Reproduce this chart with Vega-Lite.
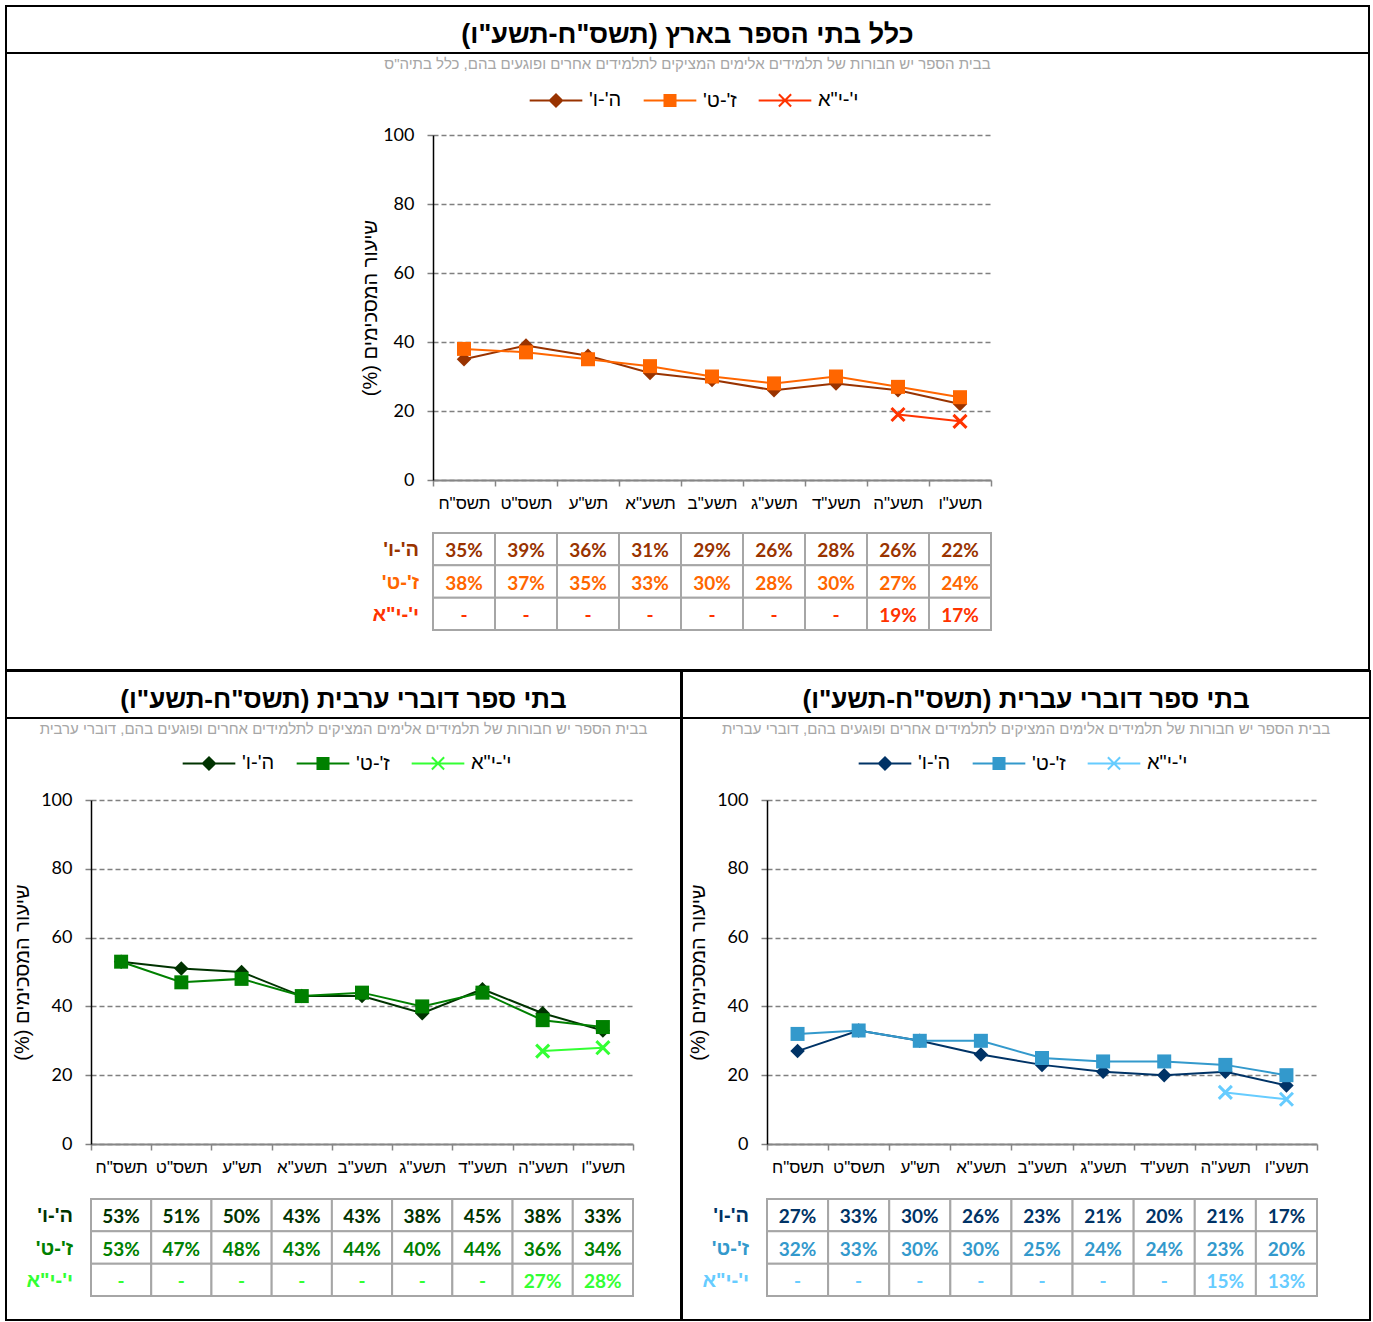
{
"$schema": "https://vega.github.io/schema/vega-lite/v6.json",
"padding": {"left": 5, "top": 5, "right": 0, "bottom": 0},
"background": "white",
"config": {
 "view": {"stroke": null},
 "font": "Liberation Sans",
 "axisX": {"domainColor": "#868686", "domainWidth": 2, "tickBand": "extent", "tickColor": "#868686", "tickSize": 6, "tickWidth": 1.5, "labelAngle": 0, "labelFont": "Liberation Sans", "labelFontSize": 17, "labelColor": "black", "labelPadding": 9, "grid": false},
 "axisY": {"grid": true, "gridColor": "#808080", "gridDash": [5, 3], "gridWidth": 1.3, "domainColor": "black", "domainWidth": 1.5, "tickColor": "#808080", "tickSize": 6, "tickWidth": 1.5, "labelFont": "Lato", "labelFontSize": 18, "labelColor": "black", "labelPadding": 13, "titleFont": "Liberation Sans", "titleFontSize": 20, "titleFontWeight": "normal", "titleColor": "black"},
 "legend": {"orient": "none", "direction": "horizontal", "labelFont": "Liberation Sans", "labelFontSize": 20, "labelColor": "black", "symbolSize": 150, "symbolStrokeWidth": 2, "labelOffset": 23, "columnPadding": 17, "padding": 0, "labelLimit": 300},
 "title": {"fontSize": 15, "fontWeight": "normal", "color": "#A6A6A6", "font": "Liberation Sans", "anchor": "middle", "frame": "group", "offset": -19}
},
"datasets": {
 "top": [
  {"year":"תשס\"ח","grade":"ה'-ו'","value":35,"label":"35%"},
  {"year":"תשס\"ט","grade":"ה'-ו'","value":39,"label":"39%"},
  {"year":"תש\"ע","grade":"ה'-ו'","value":36,"label":"36%"},
  {"year":"תשע\"א","grade":"ה'-ו'","value":31,"label":"31%"},
  {"year":"תשע\"ב","grade":"ה'-ו'","value":29,"label":"29%"},
  {"year":"תשע\"ג","grade":"ה'-ו'","value":26,"label":"26%"},
  {"year":"תשע\"ד","grade":"ה'-ו'","value":28,"label":"28%"},
  {"year":"תשע\"ה","grade":"ה'-ו'","value":26,"label":"26%"},
  {"year":"תשע\"ו","grade":"ה'-ו'","value":22,"label":"22%"},
  {"year":"תשס\"ח","grade":"ז'-ט'","value":38,"label":"38%"},
  {"year":"תשס\"ט","grade":"ז'-ט'","value":37,"label":"37%"},
  {"year":"תש\"ע","grade":"ז'-ט'","value":35,"label":"35%"},
  {"year":"תשע\"א","grade":"ז'-ט'","value":33,"label":"33%"},
  {"year":"תשע\"ב","grade":"ז'-ט'","value":30,"label":"30%"},
  {"year":"תשע\"ג","grade":"ז'-ט'","value":28,"label":"28%"},
  {"year":"תשע\"ד","grade":"ז'-ט'","value":30,"label":"30%"},
  {"year":"תשע\"ה","grade":"ז'-ט'","value":27,"label":"27%"},
  {"year":"תשע\"ו","grade":"ז'-ט'","value":24,"label":"24%"},
  {"year":"תשס\"ח","grade":"י'-י\"א","value":null,"label":"-"},
  {"year":"תשס\"ט","grade":"י'-י\"א","value":null,"label":"-"},
  {"year":"תש\"ע","grade":"י'-י\"א","value":null,"label":"-"},
  {"year":"תשע\"א","grade":"י'-י\"א","value":null,"label":"-"},
  {"year":"תשע\"ב","grade":"י'-י\"א","value":null,"label":"-"},
  {"year":"תשע\"ג","grade":"י'-י\"א","value":null,"label":"-"},
  {"year":"תשע\"ד","grade":"י'-י\"א","value":null,"label":"-"},
  {"year":"תשע\"ה","grade":"י'-י\"א","value":19,"label":"19%"},
  {"year":"תשע\"ו","grade":"י'-י\"א","value":17,"label":"17%"}
 ],
 "arab": [
  {"year":"תשס\"ח","grade":"ה'-ו'","value":53,"label":"53%"},
  {"year":"תשס\"ט","grade":"ה'-ו'","value":51,"label":"51%"},
  {"year":"תש\"ע","grade":"ה'-ו'","value":50,"label":"50%"},
  {"year":"תשע\"א","grade":"ה'-ו'","value":43,"label":"43%"},
  {"year":"תשע\"ב","grade":"ה'-ו'","value":43,"label":"43%"},
  {"year":"תשע\"ג","grade":"ה'-ו'","value":38,"label":"38%"},
  {"year":"תשע\"ד","grade":"ה'-ו'","value":45,"label":"45%"},
  {"year":"תשע\"ה","grade":"ה'-ו'","value":38,"label":"38%"},
  {"year":"תשע\"ו","grade":"ה'-ו'","value":33,"label":"33%"},
  {"year":"תשס\"ח","grade":"ז'-ט'","value":53,"label":"53%"},
  {"year":"תשס\"ט","grade":"ז'-ט'","value":47,"label":"47%"},
  {"year":"תש\"ע","grade":"ז'-ט'","value":48,"label":"48%"},
  {"year":"תשע\"א","grade":"ז'-ט'","value":43,"label":"43%"},
  {"year":"תשע\"ב","grade":"ז'-ט'","value":44,"label":"44%"},
  {"year":"תשע\"ג","grade":"ז'-ט'","value":40,"label":"40%"},
  {"year":"תשע\"ד","grade":"ז'-ט'","value":44,"label":"44%"},
  {"year":"תשע\"ה","grade":"ז'-ט'","value":36,"label":"36%"},
  {"year":"תשע\"ו","grade":"ז'-ט'","value":34,"label":"34%"},
  {"year":"תשס\"ח","grade":"י'-י\"א","value":null,"label":"-"},
  {"year":"תשס\"ט","grade":"י'-י\"א","value":null,"label":"-"},
  {"year":"תש\"ע","grade":"י'-י\"א","value":null,"label":"-"},
  {"year":"תשע\"א","grade":"י'-י\"א","value":null,"label":"-"},
  {"year":"תשע\"ב","grade":"י'-י\"א","value":null,"label":"-"},
  {"year":"תשע\"ג","grade":"י'-י\"א","value":null,"label":"-"},
  {"year":"תשע\"ד","grade":"י'-י\"א","value":null,"label":"-"},
  {"year":"תשע\"ה","grade":"י'-י\"א","value":27,"label":"27%"},
  {"year":"תשע\"ו","grade":"י'-י\"א","value":28,"label":"28%"}
 ],
 "heb": [
  {"year":"תשס\"ח","grade":"ה'-ו'","value":27,"label":"27%"},
  {"year":"תשס\"ט","grade":"ה'-ו'","value":33,"label":"33%"},
  {"year":"תש\"ע","grade":"ה'-ו'","value":30,"label":"30%"},
  {"year":"תשע\"א","grade":"ה'-ו'","value":26,"label":"26%"},
  {"year":"תשע\"ב","grade":"ה'-ו'","value":23,"label":"23%"},
  {"year":"תשע\"ג","grade":"ה'-ו'","value":21,"label":"21%"},
  {"year":"תשע\"ד","grade":"ה'-ו'","value":20,"label":"20%"},
  {"year":"תשע\"ה","grade":"ה'-ו'","value":21,"label":"21%"},
  {"year":"תשע\"ו","grade":"ה'-ו'","value":17,"label":"17%"},
  {"year":"תשס\"ח","grade":"ז'-ט'","value":32,"label":"32%"},
  {"year":"תשס\"ט","grade":"ז'-ט'","value":33,"label":"33%"},
  {"year":"תש\"ע","grade":"ז'-ט'","value":30,"label":"30%"},
  {"year":"תשע\"א","grade":"ז'-ט'","value":30,"label":"30%"},
  {"year":"תשע\"ב","grade":"ז'-ט'","value":25,"label":"25%"},
  {"year":"תשע\"ג","grade":"ז'-ט'","value":24,"label":"24%"},
  {"year":"תשע\"ד","grade":"ז'-ט'","value":24,"label":"24%"},
  {"year":"תשע\"ה","grade":"ז'-ט'","value":23,"label":"23%"},
  {"year":"תשע\"ו","grade":"ז'-ט'","value":20,"label":"20%"},
  {"year":"תשס\"ח","grade":"י'-י\"א","value":null,"label":"-"},
  {"year":"תשס\"ט","grade":"י'-י\"א","value":null,"label":"-"},
  {"year":"תש\"ע","grade":"י'-י\"א","value":null,"label":"-"},
  {"year":"תשע\"א","grade":"י'-י\"א","value":null,"label":"-"},
  {"year":"תשע\"ב","grade":"י'-י\"א","value":null,"label":"-"},
  {"year":"תשע\"ג","grade":"י'-י\"א","value":null,"label":"-"},
  {"year":"תשע\"ד","grade":"י'-י\"א","value":null,"label":"-"},
  {"year":"תשע\"ה","grade":"י'-י\"א","value":15,"label":"15%"},
  {"year":"תשע\"ו","grade":"י'-י\"א","value":13,"label":"13%"}
 ]
},
"spacing": -2,
"resolve": {"scale": {"color": "independent", "shape": "independent", "stroke": "independent"}, "legend": {"color": "independent", "shape": "independent", "stroke": "independent"}},
"vconcat": [
 {"spacing": 0, "bounds": "flush",
  "resolve": {"scale": {"color": "independent", "shape": "independent", "stroke": "independent"}, "legend": {"color": "independent", "shape": "independent", "stroke": "independent"}},
  "vconcat": [
   {"width": 1363, "height": 47, "view": {"stroke": "black", "strokeWidth": 2},
    "data": {"values": [{}]},
    "mark": {"type": "text", "text": "\u200fכלל בתי הספר בארץ (תשס\"ח-תשע\"ו)\u200f", "font": "Liberation Sans", "fontSize": 27, "fontWeight": "bold", "dy": 5},
    "encoding": {}},
   {"width": 1363, "height": 617, "view": {"stroke": "black", "strokeWidth": 2},
    "data": {"name": "top"},
    "title": {"text": "בבית הספר יש חבורות של תלמידים אלימים המציקים לתלמידים אחרים ופוגעים בהם, כלל בתיה\"ס"},
    "resolve": {"scale": {"y": "independent"}},
    "layer": [
     {"transform": [{"filter": "isValid(datum.value)"}],
      "layer": [
       {"mark": {"type": "line", "strokeWidth": 2},
        "encoding": {
         "x": {"field": "year", "type": "nominal", "sort": ["תשס\"ח","תשס\"ט","תש\"ע","תשע\"א","תשע\"ב","תשע\"ג","תשע\"ד","תשע\"ה","תשע\"ו"], "scale": {"type": "band", "domain": ["תשס\"ח","תשס\"ט","תש\"ע","תשע\"א","תשע\"ב","תשע\"ג","תשע\"ד","תשע\"ה","תשע\"ו"], "range": [427, 985], "paddingInner": 0, "paddingOuter": 0}, "axis": {"orient": "bottom", "offset": -190, "title": null}},
         "y": {"field": "value", "type": "quantitative", "scale": {"domain": [0, 100], "range": [427, 82], "nice": false, "zero": false}, "axis": {"orient": "left", "offset": -427, "values": [0, 20, 40, 60, 80, 100], "title": "שיעור המסכימים (%)\u200f", "titlePadding": 2}},
         "color": {"field": "grade", "type": "nominal", "scale": {"domain": ["ה'-ו'","ז'-ט'","י'-י\"א"], "range": ["#993300","#FF6600","#FF3300"]},
          "legend": {"title": null, "legendX": 540, "legendY": 37, "labelExpr": "'\u200f' + datum.label + '\u200f'"}}
        }},
       {"transform": [{"filter": {"field": "grade", "equal": "ה'-ו'"}}],
        "mark": {"type": "point", "shape": "diamond", "filled": true, "opacity": 1, "size": 210},
        "encoding": {
         "x": {"field": "year", "type": "nominal", "sort": ["תשס\"ח","תשס\"ט","תש\"ע","תשע\"א","תשע\"ב","תשע\"ג","תשע\"ד","תשע\"ה","תשע\"ו"], "scale": {"type": "band", "domain": ["תשס\"ח","תשס\"ט","תש\"ע","תשע\"א","תשע\"ב","תשע\"ג","תשע\"ד","תשע\"ה","תשע\"ו"], "range": [427, 985], "paddingInner": 0, "paddingOuter": 0}},
         "y": {"field": "value", "type": "quantitative", "scale": {"domain": [0, 100], "range": [427, 82], "nice": false, "zero": false}},
         "color": {"field": "grade", "type": "nominal", "scale": {"domain": ["ה'-ו'","ז'-ט'","י'-י\"א"], "range": ["#993300","#FF6600","#FF3300"]}}
        }},
       {"transform": [{"filter": {"field": "grade", "equal": "ז'-ט'"}}],
        "mark": {"type": "point", "shape": "square", "filled": true, "opacity": 1, "size": 196},
        "encoding": {
         "x": {"field": "year", "type": "nominal", "sort": ["תשס\"ח","תשס\"ט","תש\"ע","תשע\"א","תשע\"ב","תשע\"ג","תשע\"ד","תשע\"ה","תשע\"ו"], "scale": {"type": "band", "domain": ["תשס\"ח","תשס\"ט","תש\"ע","תשע\"א","תשע\"ב","תשע\"ג","תשע\"ד","תשע\"ה","תשע\"ו"], "range": [427, 985], "paddingInner": 0, "paddingOuter": 0}},
         "y": {"field": "value", "type": "quantitative", "scale": {"domain": [0, 100], "range": [427, 82], "nice": false, "zero": false}},
         "color": {"field": "grade", "type": "nominal", "scale": {"domain": ["ה'-ו'","ז'-ט'","י'-י\"א"], "range": ["#993300","#FF6600","#FF3300"]}}
        }},
       {"transform": [{"filter": {"field": "grade", "equal": "י'-י\"א"}}],
        "mark": {"type": "point", "shape": "M-1.1,-1.1L1.1,1.1M-1.1,1.1L1.1,-1.1", "filled": false, "opacity": 1, "size": 140, "strokeWidth": 3},
        "encoding": {
         "x": {"field": "year", "type": "nominal", "sort": ["תשס\"ח","תשס\"ט","תש\"ע","תשע\"א","תשע\"ב","תשע\"ג","תשע\"ד","תשע\"ה","תשע\"ו"], "scale": {"type": "band", "domain": ["תשס\"ח","תשס\"ט","תש\"ע","תשע\"א","תשע\"ב","תשע\"ג","תשע\"ד","תשע\"ה","תשע\"ו"], "range": [427, 985], "paddingInner": 0, "paddingOuter": 0}},
         "y": {"field": "value", "type": "quantitative", "scale": {"domain": [0, 100], "range": [427, 82], "nice": false, "zero": false}},
         "color": {"field": "grade", "type": "nominal", "scale": {"domain": ["ה'-ו'","ז'-ט'","י'-י\"א"], "range": ["#993300","#FF6600","#FF3300"]}}
        }},
       {"mark": {"type": "point", "filled": true, "opacity": 1, "size": 0, "strokeWidth": 2},
        "encoding": {
         "x": {"field": "year", "type": "nominal", "sort": ["תשס\"ח","תשס\"ט","תש\"ע","תשע\"א","תשע\"ב","תשע\"ג","תשע\"ד","תשע\"ה","תשע\"ו"], "scale": {"type": "band", "domain": ["תשס\"ח","תשס\"ט","תש\"ע","תשע\"א","תשע\"ב","תשע\"ג","תשע\"ד","תשע\"ה","תשע\"ו"], "range": [427, 985], "paddingInner": 0, "paddingOuter": 0}},
         "y": {"field": "value", "type": "quantitative", "scale": {"domain": [0, 100], "range": [427, 82], "nice": false, "zero": false}},
         "color": {"field": "grade", "type": "nominal", "scale": {"domain": ["ה'-ו'","ז'-ט'","י'-י\"א"], "range": ["#993300","#FF6600","#FF3300"]}, "legend": {"title": null, "legendX": 540, "legendY": 37, "labelExpr": "'\u200f' + datum.label + '\u200f'"}},
         "shape": {"field": "grade", "type": "nominal", "scale": {"domain": ["ה'-ו'","ז'-ט'","י'-י\"א"], "range": ["M-4.3,0H4.3M-1,0L0,-1L1,0L0,1Z","M-4.3,0H4.3M-0.9,-0.9H0.9V0.9H-0.9Z","M-4.3,0H4.3M-1,-1L1,1M-1,1L1,-1"]}, "legend": {"title": null, "legendX": 540, "legendY": 37, "labelExpr": "'\u200f' + datum.label + '\u200f'"}},
         "stroke": {"field": "grade", "type": "nominal", "scale": {"domain": ["ה'-ו'","ז'-ט'","י'-י\"א"], "range": ["#993300","#FF6600","#FF3300"]}, "legend": {"title": null, "legendX": 540, "legendY": 37, "labelExpr": "'\u200f' + datum.label + '\u200f'"}}
        }}
      ]},
     {"layer": [
       {"mark": {"type": "rect", "fill": "white", "stroke": "#A6A6A6", "strokeWidth": 2},
        "encoding": {
         "x": {"field": "year", "type": "nominal", "sort": ["תשס\"ח","תשס\"ט","תש\"ע","תשע\"א","תשע\"ב","תשע\"ג","תשע\"ד","תשע\"ה","תשע\"ו"], "scale": {"type": "band", "domain": ["תשס\"ח","תשס\"ט","תש\"ע","תשע\"א","תשע\"ב","תשע\"ג","תשע\"ד","תשע\"ה","תשע\"ו"], "range": [427, 985], "paddingInner": 0, "paddingOuter": 0}},
         "y": {"field": "grade", "type": "nominal", "scale": {"type": "band", "domain": ["ה'-ו'","ז'-ט'","י'-י\"א"], "range": [480, 577], "paddingInner": 0, "paddingOuter": 0}, "axis": null}
        }},
       {"mark": {"type": "text", "font": "Lato", "fontSize": 19, "fontWeight": "bold", "dy": 2},
        "encoding": {
         "x": {"field": "year", "type": "nominal", "sort": ["תשס\"ח","תשס\"ט","תש\"ע","תשע\"א","תשע\"ב","תשע\"ג","תשע\"ד","תשע\"ה","תשע\"ו"], "scale": {"type": "band", "domain": ["תשס\"ח","תשס\"ט","תש\"ע","תשע\"א","תשע\"ב","תשע\"ג","תשע\"ד","תשע\"ה","תשע\"ו"], "range": [427, 985], "paddingInner": 0, "paddingOuter": 0}},
         "y": {"field": "grade", "type": "nominal", "scale": {"type": "band", "domain": ["ה'-ו'","ז'-ט'","י'-י\"א"], "range": [480, 577], "paddingInner": 0, "paddingOuter": 0}, "axis": null},
         "text": {"field": "label"},
         "color": {"field": "grade", "type": "nominal", "scale": {"domain": ["ה'-ו'","ז'-ט'","י'-י\"א"], "range": ["#993300","#FF6600","#FF3300"]}}
        }},
       {"transform": [{"filter": "datum.year === 'תשס\"ח'"}],
        "mark": {"type": "text", "align": "right", "dx": -14, "dy": 1, "fontSize": 20, "fontWeight": "bold", "font": "Liberation Sans", "text": {"expr": "'\u200f' + datum.grade + '\u200f'"}},
        "encoding": {
         "x": {"datum": "תשס\"ח", "type": "nominal", "bandPosition": 0, "scale": {"type": "band", "domain": ["תשס\"ח","תשס\"ט","תש\"ע","תשע\"א","תשע\"ב","תשע\"ג","תשע\"ד","תשע\"ה","תשע\"ו"], "range": [427, 985], "paddingInner": 0, "paddingOuter": 0}},
         "y": {"field": "grade", "type": "nominal", "scale": {"type": "band", "domain": ["ה'-ו'","ז'-ט'","י'-י\"א"], "range": [480, 577], "paddingInner": 0, "paddingOuter": 0}, "axis": null},
         "color": {"field": "grade", "type": "nominal", "scale": {"domain": ["ה'-ו'","ז'-ט'","י'-י\"א"], "range": ["#993300","#FF6600","#FF3300"]}}
        }}
      ]}
    ]}
  ]},
 {"spacing": -2,
  "resolve": {"scale": {"color": "independent", "shape": "independent", "stroke": "independent"}, "legend": {"color": "independent", "shape": "independent", "stroke": "independent"}},
  "hconcat": [
   {"spacing": 0, "bounds": "flush",
    "resolve": {"scale": {"color": "independent", "shape": "independent", "stroke": "independent"}, "legend": {"color": "independent", "shape": "independent", "stroke": "independent"}},
    "vconcat": [
     {"width": 675, "height": 47, "view": {"stroke": "black", "strokeWidth": 2},
      "data": {"values": [{}]},
      "mark": {"type": "text", "text": "\u200fבתי ספר דוברי ערבית (תשס\"ח-תשע\"ו)\u200f", "font": "Liberation Sans", "fontSize": 26, "fontWeight": "bold", "dy": 5},
      "encoding": {}},
     {"width": 675, "height": 602, "view": {"stroke": "black", "strokeWidth": 2},
      "data": {"name": "arab"},
      "title": {"text": "בבית הספר יש חבורות של תלמידים אלימים המציקים לתלמידים אחרים ופוגעים בהם, דוברי ערבית"},
      "resolve": {"scale": {"y": "independent"}},
      "layer": [
       {"transform": [{"filter": "isValid(datum.value)"}],
        "layer": [
         {"mark": {"type": "line", "strokeWidth": 2},
          "encoding": {
           "x": {"field": "year", "type": "nominal", "sort": ["תשס\"ח","תשס\"ט","תש\"ע","תשע\"א","תשע\"ב","תשע\"ג","תשע\"ד","תשע\"ה","תשע\"ו"], "scale": {"type": "band", "domain": ["תשס\"ח","תשס\"ט","תש\"ע","תשע\"א","תשע\"ב","תשע\"ג","תשע\"ד","תשע\"ה","תשע\"ו"], "range": [85, 627], "paddingInner": 0, "paddingOuter": 0}, "axis": {"orient": "bottom", "offset": -176, "title": null}},
           "y": {"field": "value", "type": "quantitative", "scale": {"domain": [0, 100], "range": [426, 82], "nice": false, "zero": false}, "axis": {"orient": "left", "offset": -85, "values": [0, 20, 40, 60, 80, 100], "title": "שיעור המסכימים (%)\u200f", "titlePadding": 8}},
           "color": {"field": "grade", "type": "nominal", "scale": {"domain": ["ה'-ו'","ז'-ט'","י'-י\"א"], "range": ["#003300","#008000","#33FF33"]},
            "legend": {"title": null, "legendX": 193, "legendY": 35, "labelExpr": "'\u200f' + datum.label + '\u200f'"}}
          }},
         {"transform": [{"filter": {"field": "grade", "equal": "ה'-ו'"}}],
          "mark": {"type": "point", "shape": "diamond", "filled": true, "opacity": 1, "size": 210},
          "encoding": {
           "x": {"field": "year", "type": "nominal", "sort": ["תשס\"ח","תשס\"ט","תש\"ע","תשע\"א","תשע\"ב","תשע\"ג","תשע\"ד","תשע\"ה","תשע\"ו"], "scale": {"type": "band", "domain": ["תשס\"ח","תשס\"ט","תש\"ע","תשע\"א","תשע\"ב","תשע\"ג","תשע\"ד","תשע\"ה","תשע\"ו"], "range": [85, 627], "paddingInner": 0, "paddingOuter": 0}},
           "y": {"field": "value", "type": "quantitative", "scale": {"domain": [0, 100], "range": [426, 82], "nice": false, "zero": false}},
           "color": {"field": "grade", "type": "nominal", "scale": {"domain": ["ה'-ו'","ז'-ט'","י'-י\"א"], "range": ["#003300","#008000","#33FF33"]}}
          }},
         {"transform": [{"filter": {"field": "grade", "equal": "ז'-ט'"}}],
          "mark": {"type": "point", "shape": "square", "filled": true, "opacity": 1, "size": 196},
          "encoding": {
           "x": {"field": "year", "type": "nominal", "sort": ["תשס\"ח","תשס\"ט","תש\"ע","תשע\"א","תשע\"ב","תשע\"ג","תשע\"ד","תשע\"ה","תשע\"ו"], "scale": {"type": "band", "domain": ["תשס\"ח","תשס\"ט","תש\"ע","תשע\"א","תשע\"ב","תשע\"ג","תשע\"ד","תשע\"ה","תשע\"ו"], "range": [85, 627], "paddingInner": 0, "paddingOuter": 0}},
           "y": {"field": "value", "type": "quantitative", "scale": {"domain": [0, 100], "range": [426, 82], "nice": false, "zero": false}},
           "color": {"field": "grade", "type": "nominal", "scale": {"domain": ["ה'-ו'","ז'-ט'","י'-י\"א"], "range": ["#003300","#008000","#33FF33"]}}
          }},
         {"transform": [{"filter": {"field": "grade", "equal": "י'-י\"א"}}],
          "mark": {"type": "point", "shape": "M-1.1,-1.1L1.1,1.1M-1.1,1.1L1.1,-1.1", "filled": false, "opacity": 1, "size": 140, "strokeWidth": 3},
          "encoding": {
           "x": {"field": "year", "type": "nominal", "sort": ["תשס\"ח","תשס\"ט","תש\"ע","תשע\"א","תשע\"ב","תשע\"ג","תשע\"ד","תשע\"ה","תשע\"ו"], "scale": {"type": "band", "domain": ["תשס\"ח","תשס\"ט","תש\"ע","תשע\"א","תשע\"ב","תשע\"ג","תשע\"ד","תשע\"ה","תשע\"ו"], "range": [85, 627], "paddingInner": 0, "paddingOuter": 0}},
           "y": {"field": "value", "type": "quantitative", "scale": {"domain": [0, 100], "range": [426, 82], "nice": false, "zero": false}},
           "color": {"field": "grade", "type": "nominal", "scale": {"domain": ["ה'-ו'","ז'-ט'","י'-י\"א"], "range": ["#003300","#008000","#33FF33"]}}
          }},
         {"mark": {"type": "point", "filled": true, "opacity": 1, "size": 0, "strokeWidth": 2},
          "encoding": {
           "x": {"field": "year", "type": "nominal", "sort": ["תשס\"ח","תשס\"ט","תש\"ע","תשע\"א","תשע\"ב","תשע\"ג","תשע\"ד","תשע\"ה","תשע\"ו"], "scale": {"type": "band", "domain": ["תשס\"ח","תשס\"ט","תש\"ע","תשע\"א","תשע\"ב","תשע\"ג","תשע\"ד","תשע\"ה","תשע\"ו"], "range": [85, 627], "paddingInner": 0, "paddingOuter": 0}},
           "y": {"field": "value", "type": "quantitative", "scale": {"domain": [0, 100], "range": [426, 82], "nice": false, "zero": false}},
           "color": {"field": "grade", "type": "nominal", "scale": {"domain": ["ה'-ו'","ז'-ט'","י'-י\"א"], "range": ["#003300","#008000","#33FF33"]}, "legend": {"title": null, "legendX": 193, "legendY": 35, "labelExpr": "'\u200f' + datum.label + '\u200f'"}},
           "shape": {"field": "grade", "type": "nominal", "scale": {"domain": ["ה'-ו'","ז'-ט'","י'-י\"א"], "range": ["M-4.3,0H4.3M-1,0L0,-1L1,0L0,1Z","M-4.3,0H4.3M-0.9,-0.9H0.9V0.9H-0.9Z","M-4.3,0H4.3M-1,-1L1,1M-1,1L1,-1"]}, "legend": {"title": null, "legendX": 193, "legendY": 35, "labelExpr": "'\u200f' + datum.label + '\u200f'"}},
           "stroke": {"field": "grade", "type": "nominal", "scale": {"domain": ["ה'-ו'","ז'-ט'","י'-י\"א"], "range": ["#003300","#008000","#33FF33"]}, "legend": {"title": null, "legendX": 193, "legendY": 35, "labelExpr": "'\u200f' + datum.label + '\u200f'"}}
          }}
        ]},
       {"layer": [
         {"mark": {"type": "rect", "fill": "white", "stroke": "#A6A6A6", "strokeWidth": 2},
          "encoding": {
           "x": {"field": "year", "type": "nominal", "sort": ["תשס\"ח","תשס\"ט","תש\"ע","תשע\"א","תשע\"ב","תשע\"ג","תשע\"ד","תשע\"ה","תשע\"ו"], "scale": {"type": "band", "domain": ["תשס\"ח","תשס\"ט","תש\"ע","תשע\"א","תשע\"ב","תשע\"ג","תשע\"ד","תשע\"ה","תשע\"ו"], "range": [85, 627], "paddingInner": 0, "paddingOuter": 0}},
           "y": {"field": "grade", "type": "nominal", "scale": {"type": "band", "domain": ["ה'-ו'","ז'-ט'","י'-י\"א"], "range": [481, 578], "paddingInner": 0, "paddingOuter": 0}, "axis": null}
          }},
         {"mark": {"type": "text", "font": "Lato", "fontSize": 19, "fontWeight": "bold", "dy": 2},
          "encoding": {
           "x": {"field": "year", "type": "nominal", "sort": ["תשס\"ח","תשס\"ט","תש\"ע","תשע\"א","תשע\"ב","תשע\"ג","תשע\"ד","תשע\"ה","תשע\"ו"], "scale": {"type": "band", "domain": ["תשס\"ח","תשס\"ט","תש\"ע","תשע\"א","תשע\"ב","תשע\"ג","תשע\"ד","תשע\"ה","תשע\"ו"], "range": [85, 627], "paddingInner": 0, "paddingOuter": 0}},
           "y": {"field": "grade", "type": "nominal", "scale": {"type": "band", "domain": ["ה'-ו'","ז'-ט'","י'-י\"א"], "range": [481, 578], "paddingInner": 0, "paddingOuter": 0}, "axis": null},
           "text": {"field": "label"},
           "color": {"field": "grade", "type": "nominal", "scale": {"domain": ["ה'-ו'","ז'-ט'","י'-י\"א"], "range": ["#003300","#008000","#33FF33"]}}
          }},
         {"transform": [{"filter": "datum.year === 'תשס\"ח'"}],
          "mark": {"type": "text", "align": "right", "dx": -18, "dy": 1, "fontSize": 20, "fontWeight": "bold", "font": "Liberation Sans", "text": {"expr": "'\u200f' + datum.grade + '\u200f'"}},
          "encoding": {
           "x": {"datum": "תשס\"ח", "type": "nominal", "bandPosition": 0, "scale": {"type": "band", "domain": ["תשס\"ח","תשס\"ט","תש\"ע","תשע\"א","תשע\"ב","תשע\"ג","תשע\"ד","תשע\"ה","תשע\"ו"], "range": [85, 627], "paddingInner": 0, "paddingOuter": 0}},
           "y": {"field": "grade", "type": "nominal", "scale": {"type": "band", "domain": ["ה'-ו'","ז'-ט'","י'-י\"א"], "range": [481, 578], "paddingInner": 0, "paddingOuter": 0}, "axis": null},
           "color": {"field": "grade", "type": "nominal", "scale": {"domain": ["ה'-ו'","ז'-ט'","י'-י\"א"], "range": ["#003300","#008000","#33FF33"]}}
          }}
        ]}
      ]}
    ]},
   {"spacing": 0, "bounds": "flush",
    "resolve": {"scale": {"color": "independent", "shape": "independent", "stroke": "independent"}, "legend": {"color": "independent", "shape": "independent", "stroke": "independent"}},
    "vconcat": [
     {"width": 688, "height": 47, "view": {"stroke": "black", "strokeWidth": 2},
      "data": {"values": [{}]},
      "mark": {"type": "text", "text": "\u200fבתי ספר דוברי עברית (תשס\"ח-תשע\"ו)\u200f", "font": "Liberation Sans", "fontSize": 26, "fontWeight": "bold", "dy": 5},
      "encoding": {}},
     {"width": 688, "height": 602, "view": {"stroke": "black", "strokeWidth": 2},
      "data": {"name": "heb"},
      "title": {"text": "בבית הספר יש חבורות של תלמידים אלימים המציקים לתלמידים אחרים ופוגעים בהם, דוברי עברית"},
      "resolve": {"scale": {"y": "independent"}},
      "layer": [
       {"transform": [{"filter": "isValid(datum.value)"}],
        "layer": [
         {"mark": {"type": "line", "strokeWidth": 2},
          "encoding": {
           "x": {"field": "year", "type": "nominal", "sort": ["תשס\"ח","תשס\"ט","תש\"ע","תשע\"א","תשע\"ב","תשע\"ג","תשע\"ד","תשע\"ה","תשע\"ו"], "scale": {"type": "band", "domain": ["תשס\"ח","תשס\"ט","תש\"ע","תשע\"א","תשע\"ב","תשע\"ג","תשע\"ד","תשע\"ה","תשע\"ו"], "range": [85, 635], "paddingInner": 0, "paddingOuter": 0}, "axis": {"orient": "bottom", "offset": -176, "title": null}},
           "y": {"field": "value", "type": "quantitative", "scale": {"domain": [0, 100], "range": [426, 82], "nice": false, "zero": false}, "axis": {"orient": "left", "offset": -85, "values": [0, 20, 40, 60, 80, 100], "title": "שיעור המסכימים (%)\u200f", "titlePadding": 8}},
           "color": {"field": "grade", "type": "nominal", "scale": {"domain": ["ה'-ו'","ז'-ט'","י'-י\"א"], "range": ["#003366","#3399CC","#66CCFF"]},
            "legend": {"title": null, "legendX": 193, "legendY": 35, "labelExpr": "'\u200f' + datum.label + '\u200f'"}}
          }},
         {"transform": [{"filter": {"field": "grade", "equal": "ה'-ו'"}}],
          "mark": {"type": "point", "shape": "diamond", "filled": true, "opacity": 1, "size": 210},
          "encoding": {
           "x": {"field": "year", "type": "nominal", "sort": ["תשס\"ח","תשס\"ט","תש\"ע","תשע\"א","תשע\"ב","תשע\"ג","תשע\"ד","תשע\"ה","תשע\"ו"], "scale": {"type": "band", "domain": ["תשס\"ח","תשס\"ט","תש\"ע","תשע\"א","תשע\"ב","תשע\"ג","תשע\"ד","תשע\"ה","תשע\"ו"], "range": [85, 635], "paddingInner": 0, "paddingOuter": 0}},
           "y": {"field": "value", "type": "quantitative", "scale": {"domain": [0, 100], "range": [426, 82], "nice": false, "zero": false}},
           "color": {"field": "grade", "type": "nominal", "scale": {"domain": ["ה'-ו'","ז'-ט'","י'-י\"א"], "range": ["#003366","#3399CC","#66CCFF"]}}
          }},
         {"transform": [{"filter": {"field": "grade", "equal": "ז'-ט'"}}],
          "mark": {"type": "point", "shape": "square", "filled": true, "opacity": 1, "size": 196},
          "encoding": {
           "x": {"field": "year", "type": "nominal", "sort": ["תשס\"ח","תשס\"ט","תש\"ע","תשע\"א","תשע\"ב","תשע\"ג","תשע\"ד","תשע\"ה","תשע\"ו"], "scale": {"type": "band", "domain": ["תשס\"ח","תשס\"ט","תש\"ע","תשע\"א","תשע\"ב","תשע\"ג","תשע\"ד","תשע\"ה","תשע\"ו"], "range": [85, 635], "paddingInner": 0, "paddingOuter": 0}},
           "y": {"field": "value", "type": "quantitative", "scale": {"domain": [0, 100], "range": [426, 82], "nice": false, "zero": false}},
           "color": {"field": "grade", "type": "nominal", "scale": {"domain": ["ה'-ו'","ז'-ט'","י'-י\"א"], "range": ["#003366","#3399CC","#66CCFF"]}}
          }},
         {"transform": [{"filter": {"field": "grade", "equal": "י'-י\"א"}}],
          "mark": {"type": "point", "shape": "M-1.1,-1.1L1.1,1.1M-1.1,1.1L1.1,-1.1", "filled": false, "opacity": 1, "size": 140, "strokeWidth": 3},
          "encoding": {
           "x": {"field": "year", "type": "nominal", "sort": ["תשס\"ח","תשס\"ט","תש\"ע","תשע\"א","תשע\"ב","תשע\"ג","תשע\"ד","תשע\"ה","תשע\"ו"], "scale": {"type": "band", "domain": ["תשס\"ח","תשס\"ט","תש\"ע","תשע\"א","תשע\"ב","תשע\"ג","תשע\"ד","תשע\"ה","תשע\"ו"], "range": [85, 635], "paddingInner": 0, "paddingOuter": 0}},
           "y": {"field": "value", "type": "quantitative", "scale": {"domain": [0, 100], "range": [426, 82], "nice": false, "zero": false}},
           "color": {"field": "grade", "type": "nominal", "scale": {"domain": ["ה'-ו'","ז'-ט'","י'-י\"א"], "range": ["#003366","#3399CC","#66CCFF"]}}
          }},
         {"mark": {"type": "point", "filled": true, "opacity": 1, "size": 0, "strokeWidth": 2},
          "encoding": {
           "x": {"field": "year", "type": "nominal", "sort": ["תשס\"ח","תשס\"ט","תש\"ע","תשע\"א","תשע\"ב","תשע\"ג","תשע\"ד","תשע\"ה","תשע\"ו"], "scale": {"type": "band", "domain": ["תשס\"ח","תשס\"ט","תש\"ע","תשע\"א","תשע\"ב","תשע\"ג","תשע\"ד","תשע\"ה","תשע\"ו"], "range": [85, 635], "paddingInner": 0, "paddingOuter": 0}},
           "y": {"field": "value", "type": "quantitative", "scale": {"domain": [0, 100], "range": [426, 82], "nice": false, "zero": false}},
           "color": {"field": "grade", "type": "nominal", "scale": {"domain": ["ה'-ו'","ז'-ט'","י'-י\"א"], "range": ["#003366","#3399CC","#66CCFF"]}, "legend": {"title": null, "legendX": 193, "legendY": 35, "labelExpr": "'\u200f' + datum.label + '\u200f'"}},
           "shape": {"field": "grade", "type": "nominal", "scale": {"domain": ["ה'-ו'","ז'-ט'","י'-י\"א"], "range": ["M-4.3,0H4.3M-1,0L0,-1L1,0L0,1Z","M-4.3,0H4.3M-0.9,-0.9H0.9V0.9H-0.9Z","M-4.3,0H4.3M-1,-1L1,1M-1,1L1,-1"]}, "legend": {"title": null, "legendX": 193, "legendY": 35, "labelExpr": "'\u200f' + datum.label + '\u200f'"}},
           "stroke": {"field": "grade", "type": "nominal", "scale": {"domain": ["ה'-ו'","ז'-ט'","י'-י\"א"], "range": ["#003366","#3399CC","#66CCFF"]}, "legend": {"title": null, "legendX": 193, "legendY": 35, "labelExpr": "'\u200f' + datum.label + '\u200f'"}}
          }}
        ]},
       {"layer": [
         {"mark": {"type": "rect", "fill": "white", "stroke": "#A6A6A6", "strokeWidth": 2},
          "encoding": {
           "x": {"field": "year", "type": "nominal", "sort": ["תשס\"ח","תשס\"ט","תש\"ע","תשע\"א","תשע\"ב","תשע\"ג","תשע\"ד","תשע\"ה","תשע\"ו"], "scale": {"type": "band", "domain": ["תשס\"ח","תשס\"ט","תש\"ע","תשע\"א","תשע\"ב","תשע\"ג","תשע\"ד","תשע\"ה","תשע\"ו"], "range": [85, 635], "paddingInner": 0, "paddingOuter": 0}},
           "y": {"field": "grade", "type": "nominal", "scale": {"type": "band", "domain": ["ה'-ו'","ז'-ט'","י'-י\"א"], "range": [481, 578], "paddingInner": 0, "paddingOuter": 0}, "axis": null}
          }},
         {"mark": {"type": "text", "font": "Lato", "fontSize": 19, "fontWeight": "bold", "dy": 2},
          "encoding": {
           "x": {"field": "year", "type": "nominal", "sort": ["תשס\"ח","תשס\"ט","תש\"ע","תשע\"א","תשע\"ב","תשע\"ג","תשע\"ד","תשע\"ה","תשע\"ו"], "scale": {"type": "band", "domain": ["תשס\"ח","תשס\"ט","תש\"ע","תשע\"א","תשע\"ב","תשע\"ג","תשע\"ד","תשע\"ה","תשע\"ו"], "range": [85, 635], "paddingInner": 0, "paddingOuter": 0}},
           "y": {"field": "grade", "type": "nominal", "scale": {"type": "band", "domain": ["ה'-ו'","ז'-ט'","י'-י\"א"], "range": [481, 578], "paddingInner": 0, "paddingOuter": 0}, "axis": null},
           "text": {"field": "label"},
           "color": {"field": "grade", "type": "nominal", "scale": {"domain": ["ה'-ו'","ז'-ט'","י'-י\"א"], "range": ["#003366","#3399CC","#66CCFF"]}}
          }},
         {"transform": [{"filter": "datum.year === 'תשס\"ח'"}],
          "mark": {"type": "text", "align": "right", "dx": -18, "dy": 1, "fontSize": 20, "fontWeight": "bold", "font": "Liberation Sans", "text": {"expr": "'\u200f' + datum.grade + '\u200f'"}},
          "encoding": {
           "x": {"datum": "תשס\"ח", "type": "nominal", "bandPosition": 0, "scale": {"type": "band", "domain": ["תשס\"ח","תשס\"ט","תש\"ע","תשע\"א","תשע\"ב","תשע\"ג","תשע\"ד","תשע\"ה","תשע\"ו"], "range": [85, 635], "paddingInner": 0, "paddingOuter": 0}},
           "y": {"field": "grade", "type": "nominal", "scale": {"type": "band", "domain": ["ה'-ו'","ז'-ט'","י'-י\"א"], "range": [481, 578], "paddingInner": 0, "paddingOuter": 0}, "axis": null},
           "color": {"field": "grade", "type": "nominal", "scale": {"domain": ["ה'-ו'","ז'-ט'","י'-י\"א"], "range": ["#003366","#3399CC","#66CCFF"]}}
          }}
        ]}
      ]}
    ]}
  ]}
]
}
